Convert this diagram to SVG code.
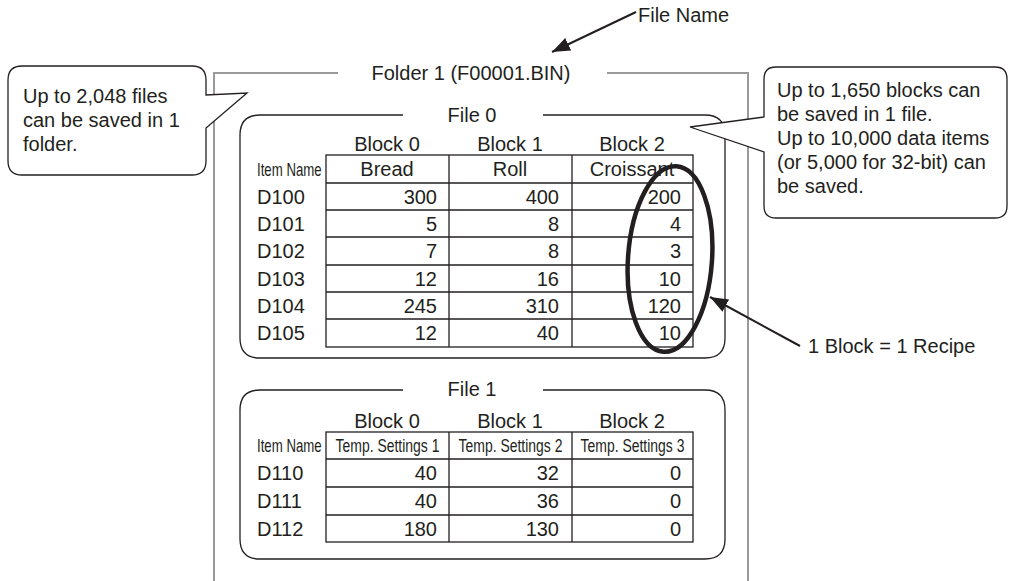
<svg xmlns="http://www.w3.org/2000/svg" width="1009" height="581" viewBox="0 0 1009 581">
<style>
.t{font-family:"Liberation Sans",Arial,Helvetica,sans-serif;font-size:20px;fill:#231f20}
.m{text-anchor:middle}
.e{text-anchor:end}
.n{font-family:"Liberation Sans",Arial,Helvetica,sans-serif;font-size:18px;fill:#231f20}
.folder{fill:none;stroke:#9a9a9a;stroke-width:2}
.box{fill:none;stroke:#231f20;stroke-width:1.3}
.grid{fill:none;stroke:#231f20;stroke-width:1.3}
.callout{fill:#fff;stroke:#231f20;stroke-width:1.3;stroke-linejoin:miter}
.conn{fill:none;stroke:#231f20;stroke-width:2}
</style>
<defs>
<marker id="ah" markerUnits="userSpaceOnUse" markerWidth="20" markerHeight="14" refX="18" refY="7" orient="auto">
<path d="M0,0 L18,7 L0,14 Z" fill="#231f20"/>
</marker>
</defs>
<rect width="1009" height="581" fill="#fff"/>

<g id="folder">
<path class="folder" d="M214,581 V73 H338 M607,73 H748 V581"/>
<text class="t m" x="471" y="80">Folder 1 (F00001.BIN)</text>
</g>

<g id="file0">
<path class="box" d="M403,115 H260 Q240,115 240,135 V338 Q240,358 260,358 H705 Q725,358 725,338 V135 Q725,115 705,115 H543"/>
<text class="t m" x="472" y="122">File 0</text>
<text class="t m" x="387" y="151">Block 0</text>
<text class="t m" x="510" y="151">Block 1</text>
<text class="t m" x="632" y="151">Block 2</text>
<rect class="grid" x="326" y="155" width="367" height="192"/>
<path class="grid" d="M449,155 V347 M572,155 V347 M326,183 H693 M326,210 H693 M326,237 H693 M326,265 H693 M326,292 H693 M326,319 H693"/>
<text class="n" transform="translate(257,176) scale(0.735,1)">Item Name</text>
<text class="t m" x="387" y="176">Bread</text>
<text class="t m" x="510" y="176">Roll</text>
<text class="t m" x="632" y="176">Croissant</text>
<g class="t">
<text x="257" y="204">D100</text>
<text x="257" y="231">D101</text>
<text x="257" y="258">D102</text>
<text x="257" y="286">D103</text>
<text x="257" y="313">D104</text>
<text x="257" y="340">D105</text>
</g>
<g class="t e">
<text x="437" y="204">300</text><text x="559" y="204">400</text><text x="681" y="204">200</text>
<text x="437" y="231">5</text><text x="559" y="231">8</text><text x="681" y="231">4</text>
<text x="437" y="258">7</text><text x="559" y="258">8</text><text x="681" y="258">3</text>
<text x="437" y="286">12</text><text x="559" y="286">16</text><text x="681" y="286">10</text>
<text x="437" y="313">245</text><text x="559" y="313">310</text><text x="681" y="313">120</text>
<text x="437" y="340">12</text><text x="559" y="340">40</text><text x="681" y="340">10</text>
</g>
</g>

<g id="recipe-ellipse">
<ellipse cx="670" cy="259" rx="42" ry="93" transform="rotate(4 670 259)" fill="none" stroke="#231f20" stroke-width="4.5"/>
</g>

<g id="file1">
<path class="box" d="M403,390 H260 Q240,390 240,410 V539 Q240,559 260,559 H705 Q725,559 725,539 V410 Q725,390 705,390 H543"/>
<text class="t m" x="472" y="396">File 1</text>
<text class="t m" x="387" y="428">Block 0</text>
<text class="t m" x="510" y="428">Block 1</text>
<text class="t m" x="632" y="428">Block 2</text>
<rect class="grid" x="326" y="432" width="367" height="110"/>
<path class="grid" d="M449,432 V542 M572,432 V542 M326,459 H693 M326,487 H693 M326,515 H693"/>
<text class="n" transform="translate(257,452) scale(0.735,1)">Item Name</text>
<text class="n m" transform="translate(387.5,452) scale(0.775,1)">Temp. Settings 1</text>
<text class="n m" transform="translate(510.5,452) scale(0.775,1)">Temp. Settings 2</text>
<text class="n m" transform="translate(632.5,452) scale(0.775,1)">Temp. Settings 3</text>
<g class="t">
<text x="257" y="480">D110</text>
<text x="257" y="508">D111</text>
<text x="257" y="536">D112</text>
</g>
<g class="t e">
<text x="437" y="480">40</text><text x="559" y="480">32</text><text x="681" y="480">0</text>
<text x="437" y="508">40</text><text x="559" y="508">36</text><text x="681" y="508">0</text>
<text x="437" y="536">180</text><text x="559" y="536">130</text><text x="681" y="536">0</text>
</g>
</g>

<g id="callout-files">
<path class="callout" d="M22,66 H192 Q206,66 206,80 V95 L247,93 L206,128 V161 Q206,175 192,175 H22 Q8,175 8,161 V80 Q8,66 22,66 Z"/>
<text class="t" x="23" y="103">Up to 2,048 files</text>
<text class="t" x="23" y="127">can be saved in 1</text>
<text class="t" x="23" y="151">folder.</text>
</g>

<g id="callout-blocks">
<path class="callout" d="M776,67 H995 Q1007,67 1007,79 V206 Q1007,218 995,218 H776 Q764,218 764,206 V152 L690,127 L764,117 V79 Q764,67 776,67 Z"/>
<text class="t" x="777" y="97">Up to 1,650 blocks can</text>
<text class="t" x="777" y="121">be saved in 1 file.</text>
<text class="t" x="777" y="145">Up to 10,000 data items</text>
<text class="t" x="777" y="169">(or 5,000 for 32-bit) can</text>
<text class="t" x="777" y="193">be saved.</text>
</g>

<g id="label-filename">
<text class="t" x="638" y="22">File Name</text>
</g>

<g id="label-recipe">
<text class="t" x="808" y="353">1 Block = 1 Recipe</text>
</g>

<g id="connectors">
<line class="conn" x1="636" y1="12" x2="552" y2="52" marker-end="url(#ah)"/>
<line class="conn" x1="800" y1="346" x2="710" y2="297" marker-end="url(#ah)"/>
</g>
</svg>
